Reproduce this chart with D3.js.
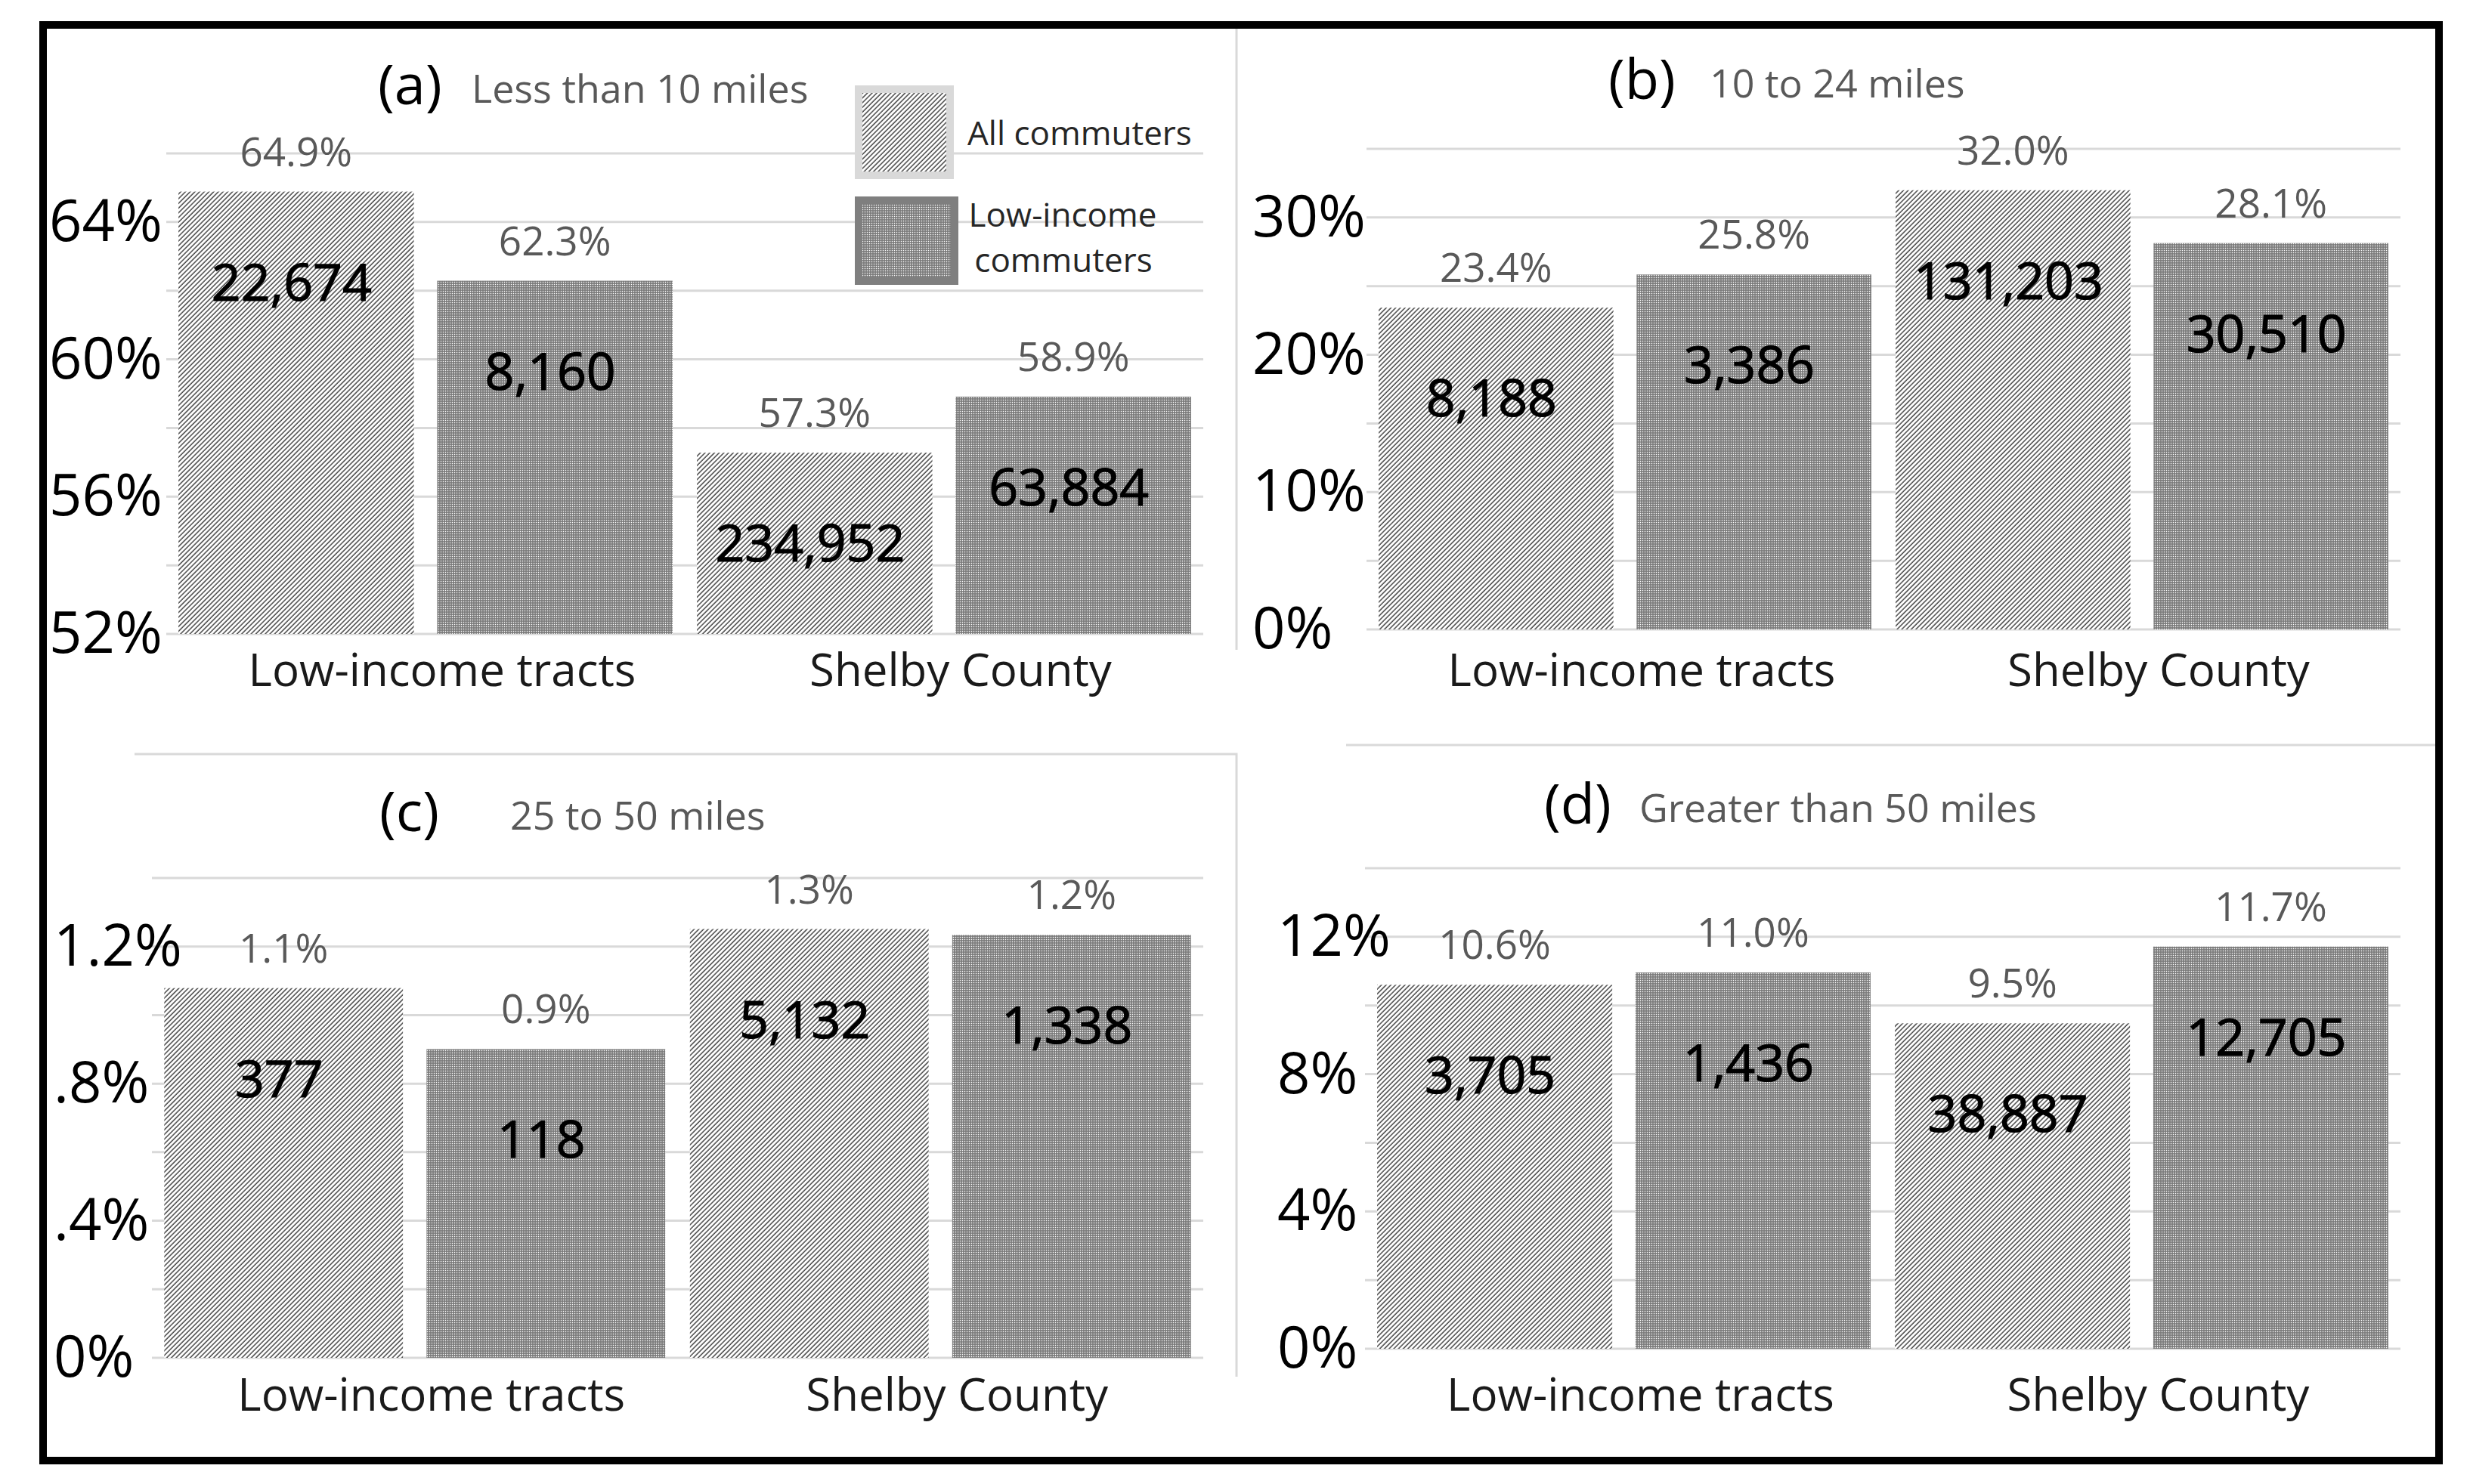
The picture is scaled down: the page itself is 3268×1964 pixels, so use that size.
<!DOCTYPE html>
<html lang="en">
<head>
<meta charset="utf-8" />
<title>Commute distance, low-income tracts vs Shelby County</title>
<style>
  body { margin: 0; padding: 0; background: #fff; }
  svg text { font-family: 'Open Sans', sans-serif; }
  .grid { stroke: #d9d9d9; stroke-width: 3; }
  .sep { stroke: #d9d9d9; stroke-width: 3; fill: none; }
  .tick { font-size: 76px; fill: #000; }
  .pct { font-size: 53px; fill: #595959; text-anchor: middle; }
  .count { font-size: 68px; fill: #000; stroke: #000; stroke-width: 1.2px; text-anchor: middle; }
  .cat { font-size: 60px; fill: #1a1a1a; text-anchor: middle; }
  .letter { font-size: 74px; fill: #000; }
  .sub { font-size: 52px; fill: #595959; }
  .legend { font-size: 44px; fill: #262626; }
</style>
</head>
<body>
<svg id="chart" width="3268" height="1964"></svg>
<script src="https://d3js.org/d3.v7.min.js"></script>
<script>
const categories = ['Low-income tracts', 'Shelby County'];
const series = ['All commuters', 'Low-income commuters'];
const letters = ['(a)', '(b)', '(c)', '(d)'];
const bands = ['Less than 10 miles', '10 to 24 miles', '25 to 50 miles', 'Greater than 50 miles'];

// commuters per distance band, order: tracts/all, tracts/low-income, county/all, county/low-income
const countsUnder10 = [22674, 8160, 234952, 63884];
const counts10to24 = [8188, 3386, 131203, 30510];
const counts25to50 = [377, 118, 5132, 1338];
const countsOver50 = [3705, 1436, 38887, 12705];

const ticksA = [52, 56, 60, 64];
const tickLabelsA = ['52%', '56%', '60%', '64%'];
const ticksB = [0, 10, 20, 30];
const tickLabelsB = ['0%', '10%', '20%', '30%'];
const ticksC = [0, 0.4, 0.8, 1.2];
const tickLabelsC = ['0%', '.4%', '.8%', '1.2%'];
const ticksD = [0, 4, 8, 12];
const tickLabelsD = ['0%', '4%', '8%', '12%'];

// shares are each count over that group's total across the four bands
const allCounts = [countsUnder10, counts10to24, counts25to50, countsOver50];
const totals = series.concat(series).map((s, j) => d3.sum(allCounts, c => c[j]));

const panels = [
  { counts: countsUnder10, ticks: ticksA, tickLabels: tickLabelsA, domain: [52, 66], step: 2,
    x: [220, 1592], y: [839, 203], tickX: 65, letterX: 500, subX: 624, titleY: 138, catY: 908 },
  { counts: counts10to24, ticks: ticksB, tickLabels: tickLabelsB, domain: [0, 35], step: 5,
    x: [1808, 3176], y: [833, 197], tickX: 1657, letterX: 2128, subX: 2262, titleY: 131, catY: 908 },
  { counts: counts25to50, ticks: ticksC, tickLabels: tickLabelsC, domain: [0, 1.4], step: 0.2,
    x: [201, 1592], y: [1797, 1162], tickX: 71, letterX: 502, subX: 675, titleY: 1100, catY: 1867 },
  { counts: countsOver50, ticks: ticksD, tickLabels: tickLabelsD, domain: [0, 14], step: 2,
    x: [1806, 3176], y: [1785, 1149], tickX: 1690, letterX: 2043, subX: 2169, titleY: 1090, catY: 1867 }
];

const svg = d3.select('#chart');
const defs = svg.append('defs');

const hatch = defs.append('pattern')
    .attr('id', 'hatch')
    .attr('patternUnits', 'userSpaceOnUse')
    .attr('width', 4.4).attr('height', 4.4)
    .attr('patternTransform', 'rotate(45)');
hatch.append('rect').attr('width', 4.4).attr('height', 4.4).attr('fill', '#fff');
hatch.append('line').attr('x1', 1).attr('y1', 0).attr('x2', 1).attr('y2', 4.4)
    .attr('stroke', '#3a3a3a').attr('stroke-width', 1.4);

const dots = defs.append('pattern')
    .attr('id', 'dots')
    .attr('patternUnits', 'userSpaceOnUse')
    .attr('width', 3).attr('height', 3);
dots.append('rect').attr('width', 3).attr('height', 3).attr('fill', '#777');
dots.append('rect').attr('x', 0.8).attr('y', 0.8).attr('width', 1.4).attr('height', 1.4).attr('fill', '#fff');

const fills = { 'All commuters': 'url(#hatch)', 'Low-income commuters': 'url(#dots)' };
const fmtCount = d3.format(',');
const fmtPct = d3.format('.1f');

// light chart-area edges between the four panels
svg.append('line').attr('class', 'sep').attr('x1', 1636).attr('x2', 1636).attr('y1', 36).attr('y2', 860);
svg.append('polyline').attr('class', 'sep').attr('points', '178,998 1636,998 1636,1822');
svg.append('line').attr('class', 'sep').attr('x1', 1781).attr('x2', 3224).attr('y1', 986).attr('y2', 986);

panels.forEach((p, i) => {
  const g = svg.append('g');
  const x0 = d3.scaleBand().domain(categories).range(p.x);
  const x1 = d3.scaleBand().domain(series).range([0, x0.bandwidth()])
      .paddingInner(0.09).paddingOuter(0.047);
  const y = d3.scaleLinear().domain(p.domain).range(p.y);

  const rows = p.counts.map((c, j) => ({
    cat: categories[Math.floor(j / 2)],
    ser: series[j % 2],
    count: c,
    pct: c / totals[j] * 100
  }));

  g.selectAll('line.grid')
    .data(d3.range(p.domain[0], p.domain[1] + p.step / 2, p.step))
    .join('line')
      .attr('class', 'grid')
      .attr('x1', p.x[0]).attr('x2', p.x[1])
      .attr('y1', d => y(d)).attr('y2', d => y(d));

  g.selectAll('text.tick')
    .data(p.ticks)
    .join('text')
      .attr('class', 'tick')
      .attr('x', p.tickX)
      .attr('y', d => y(d) + 25)
      .text((d, k) => p.tickLabels[k]);

  const bx = d => x0(d.cat) + x1(d.ser);

  g.selectAll('rect.bar')
    .data(rows)
    .join('rect')
      .attr('class', 'bar')
      .attr('x', bx)
      .attr('width', x1.bandwidth())
      .attr('y', d => y(d.pct))
      .attr('height', d => y(p.domain[0]) - y(d.pct))
      .attr('fill', d => fills[d.ser]);

  g.selectAll('text.pct')
    .data(rows)
    .join('text')
      .attr('class', 'pct')
      .attr('x', d => bx(d) + x1.bandwidth() / 2)
      .attr('y', d => y(d.pct) - 34)
      .text(d => fmtPct(d.pct) + '%');

  g.selectAll('text.count')
    .data(rows)
    .join('text')
      .attr('class', 'count')
      .attr('x', d => bx(d) + x1.bandwidth() / 2 - 6)
      .attr('y', d => y(d.pct) + 144)
      .text(d => fmtCount(d.count));

  g.selectAll('text.cat')
    .data(categories)
    .join('text')
      .attr('class', 'cat')
      .attr('x', d => x0(d) + x0.bandwidth() / 2 + 22)
      .attr('y', p.catY)
      .text(d => d);

  g.append('text').attr('class', 'letter')
      .attr('x', p.letterX).attr('y', p.titleY)
      .text(letters[i]);
  g.append('text').attr('class', 'sub')
      .attr('x', p.subX).attr('y', p.titleY - 2)
      .text(bands[i]);
});

// legend, drawn inside panel (a)
const lg = svg.append('g');
lg.append('rect').attr('x', 1136).attr('y', 118).attr('width', 121).attr('height', 114)
    .attr('fill', fills[series[0]]).attr('stroke', '#d9d9d9').attr('stroke-width', 10);
lg.append('rect').attr('x', 1136).attr('y', 265).attr('width', 127).attr('height', 107)
    .attr('fill', fills[series[1]]).attr('stroke', '#7f7f7f').attr('stroke-width', 10);
lg.append('text').attr('class', 'legend').attr('x', 1280).attr('y', 192).text(series[0]);
const lowWords = series[1].split(' ');
lg.append('text').attr('class', 'legend').attr('x', 1406).attr('y', 300)
    .attr('text-anchor', 'middle').text(lowWords[0]);
lg.append('text').attr('class', 'legend').attr('x', 1407).attr('y', 360)
    .attr('text-anchor', 'middle').text(lowWords[1]);

// outer frame
svg.append('rect')
    .attr('x', 57).attr('y', 33).attr('width', 3170).attr('height', 1900)
    .attr('fill', 'none').attr('stroke', '#000').attr('stroke-width', 10);
</script>
</body>
</html>
